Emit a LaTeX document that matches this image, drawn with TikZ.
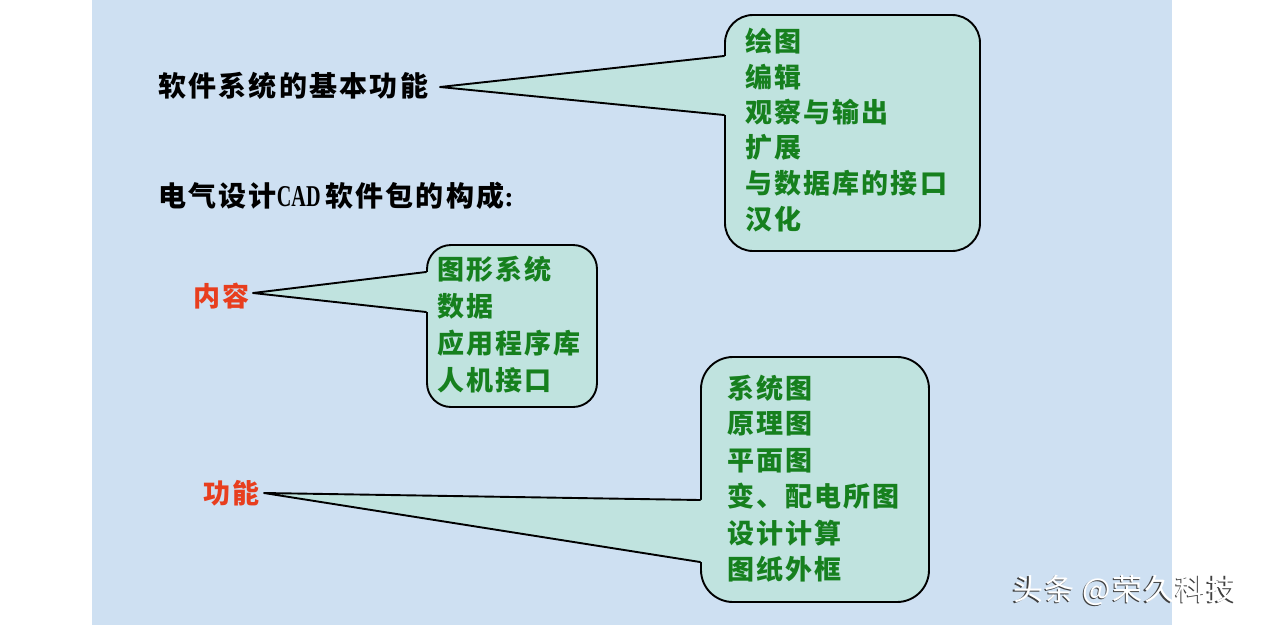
\documentclass[tikz,border=0pt]{standalone}
\usepackage{fontspec}
\setmainfont{Noto Sans CJK SC}
\newfontfamily\cjk{Noto Sans CJK SC}[LetterSpace=8]
\newfontfamily\cjkwm{Noto Sans CJK SC}[LetterSpace=5]
\newfontfamily\lat{Liberation Serif}
\definecolor{bgblue}{RGB}{206,224,242}
\definecolor{boxfill}{RGB}{192,227,223}
\definecolor{itemgreen}{RGB}{22,128,30}
\definecolor{labred}{RGB}{232,62,30}
\tikzset{
  calloutbox/.style={draw=black, line width=1.9pt, fill=boxfill, rounded corners=#1, inner sep=0pt},
  tailfill/.style={fill=boxfill, draw=none},
  tailline/.style={draw=black, line width=1.9pt, line cap=round},
  item/.style={anchor=west, inner sep=0pt, text=itemgreen, font=\cjk\bfseries\fontsize{27}{30}\selectfont},
  heading/.style={anchor=west, inner sep=0pt, text=black, font=\cjk\bfseries\fontsize{28}{30}\selectfont},
  redlabel/.style={anchor=west, inner sep=0pt, text=labred, font=\cjk\bfseries\fontsize{27}{30}\selectfont},
  wmtext/.style={anchor=west, inner sep=0pt, font=\cjkwm\fontsize{30}{32}\selectfont}
}
\begin{document}
\begin{tikzpicture}[x=1pt,y=-1pt]
\useasboundingbox (0,0) rectangle (1262,625);
\fill[white] (0,0) rectangle (1262,625);
\fill[bgblue] (92,0) rectangle (1172,625);

% headings
\node[heading] (h1) at (158,86) {软件系统的基本功能};
\node[heading] (h2) at (158,196) {电气设计\scalebox{0.72}[1.08]{\lat\bfseries CAD}\,软件包的构成{\lat\bfseries :}};
\node[redlabel] (l2) at (193,296) {内容};
\node[redlabel] (l3) at (203,493) {功能};

% tip coordinates
\coordinate (t1) at (440,87);
\coordinate (t2) at (253,293);
\coordinate (t3) at (264,493);

% boxes
\node[calloutbox=28pt, minimum width=255pt, minimum height=236pt] (b1) at (852.5,133) {};
\node[calloutbox=24pt, minimum width=170pt, minimum height=162pt] (b2) at (512,326) {};
\node[calloutbox=32pt, minimum width=228pt, minimum height=245pt] (b3) at (815,479.5) {};

% attach points on box left edges
\coordinate (u1) at ([yshift=77pt]b1.west);
\coordinate (d1) at ([yshift=18pt]b1.west);
\coordinate (u2) at ([yshift=54pt]b2.west);
\coordinate (d2) at ([yshift=14pt]b2.west);
\coordinate (u3) at ([yshift=-20.5pt]b3.west);
\coordinate (d3) at ([yshift=-82.5pt]b3.west);

% tails
\fill[tailfill] (t1) -- ([xshift=2.5pt]u1) -- ([xshift=2.5pt]d1) -- cycle;
\draw[tailline] (t1) -- (u1) (t1) -- (d1);
\fill[tailfill] (t2) -- ([xshift=2.5pt]u2) -- ([xshift=2.5pt]d2) -- cycle;
\draw[tailline] (t2) -- (u2) (t2) -- (d2);
\fill[tailfill] (t3) -- ([xshift=2.5pt]u3) -- ([xshift=2.5pt]d3) -- cycle;
\draw[tailline] (t3) -- (u3) (t3) -- (d3);

% items
\foreach \t [count=\i] in {绘图,编辑,观察与输出,扩展,与数据库的接口,汉化}
  \node[item] (b1t\i) at (745,{41+(\i-1)*35.6}) {\t};
\foreach \t [count=\i] in {图形系统,数据,应用程序库,人机接口}
  \node[item] (b2t\i) at (437,{269+(\i-1)*37}) {\t};
\foreach \t [count=\i] in {系统图,原理图,平面图,变、配电所图,设计计算,图纸外框}
  \node[item] (b3t\i) at (727,{388+(\i-1)*36.2}) {\t};

% watermark
\node[wmtext, text=black!75] (wms) at (1011.5,591.5) {头条 @荣久科技};
\node[wmtext, text=white] (wm) at (1013,590) {头条 @荣久科技};
\end{tikzpicture}
\end{document}
